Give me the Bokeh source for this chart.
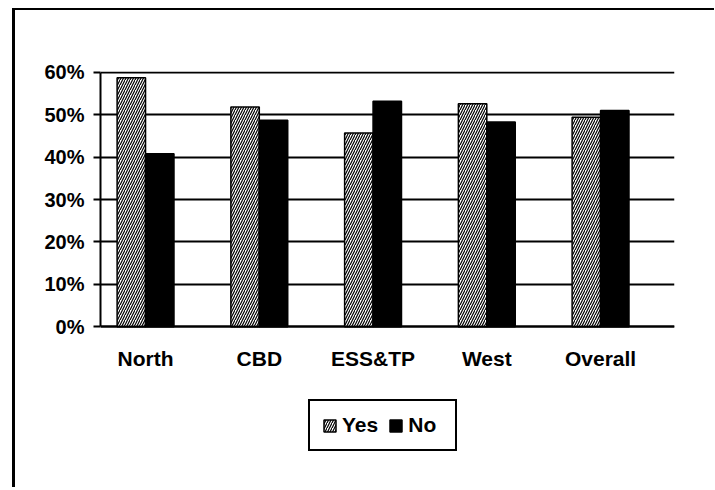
from bokeh.plotting import figure
from bokeh.models import FixedTicker, PrintfTickFormatter, Legend, LegendItem, Range1d
from bokeh.embed import file_html
from bokeh.resources import INLINE
import numpy as np

categories = ["North", "CBD", "ESS&TP", "West", "Overall"]
yes_values = [58.7, 51.8, 45.7, 52.6, 49.4]
no_values = [40.8, 48.7, 53.2, 48.3, 51.0]
y_ticks = [0, 10, 20, 30, 40, 50, 60]

FONT = "Liberation Sans"

idx = np.arange(len(categories))
bw = 0.25

p = figure(frame_width=574, frame_height=399, output_backend="svg", toolbar_location=None,
           x_range=Range1d(-0.396, 4.65), y_range=Range1d(-33.9, 60.2),
           min_border_left=85, min_border_right=40, min_border_top=61, min_border_bottom=17)
p.outline_line_color = None
p.styles = {"border-left": "3px solid black", "border-top": "2px solid black",
            "margin-left": "12px", "margin-top": "8px"}

r_yes = p.vbar(x=idx - bw / 2, top=yes_values, width=bw, fill_color="white",
               hatch_pattern="/", hatch_color="black", hatch_scale=5, hatch_weight=1.2,
               line_color="black", line_width=1.5)
r_no = p.vbar(x=idx + bw / 2, top=no_values, width=bw, fill_color="black",
              line_color="black", line_width=1.5)

# x axis drawn at the 0% level
p.xaxis.fixed_location = 0
p.xaxis.ticker = FixedTicker(ticks=list(idx))
p.xaxis.major_label_overrides = {int(i): c for i, c in zip(idx, categories)}
p.xaxis.major_tick_line_color = None
p.xaxis.minor_tick_line_color = None
p.xaxis.axis_line_width = 2
p.xaxis.axis_line_color = "black"
p.xaxis.major_label_text_font = FONT
p.xaxis.major_label_text_font_style = "bold"
p.xaxis.major_label_text_font_size = "21px"
p.xaxis.major_label_text_color = "black"
p.xaxis.major_label_standoff = 14

p.yaxis.ticker = FixedTicker(ticks=y_ticks)
p.yaxis.bounds = (0, 60)
p.yaxis.formatter = PrintfTickFormatter(format="%d%%")
p.yaxis.major_tick_in = 0
p.yaxis.major_tick_out = 7
p.yaxis.major_tick_line_width = 2
p.yaxis.minor_tick_line_color = None
p.yaxis.axis_line_width = 2
p.yaxis.axis_line_color = "black"
p.yaxis.major_label_text_font = FONT
p.yaxis.major_label_text_font_style = "bold"
p.yaxis.major_label_text_font_size = "20px"
p.yaxis.major_label_text_color = "black"
p.yaxis.major_label_standoff = 9

p.xgrid.grid_line_color = None
p.ygrid.grid_line_color = "black"
p.ygrid.grid_line_width = 2

legend = Legend(items=[LegendItem(label="Yes", renderers=[r_yes]),
                       LegendItem(label="No", renderers=[r_no])],
                orientation="horizontal", location=(208, 19))
legend.border_line_color = "black"
legend.border_line_alpha = 1
legend.border_line_width = 2
legend.background_fill_color = "white"
legend.background_fill_alpha = 1
legend.label_text_font = FONT
legend.label_text_font_style = "bold"
legend.label_text_font_size = "21px"
legend.label_text_color = "black"
legend.glyph_width = 15
legend.glyph_height = 15
legend.label_standoff = 5
legend.label_width = 35
legend.spacing = 10
legend.padding = 12
legend.margin = 0
p.add_layout(legend, "center")

open("out.html", "w").write(file_html(p, INLINE))
